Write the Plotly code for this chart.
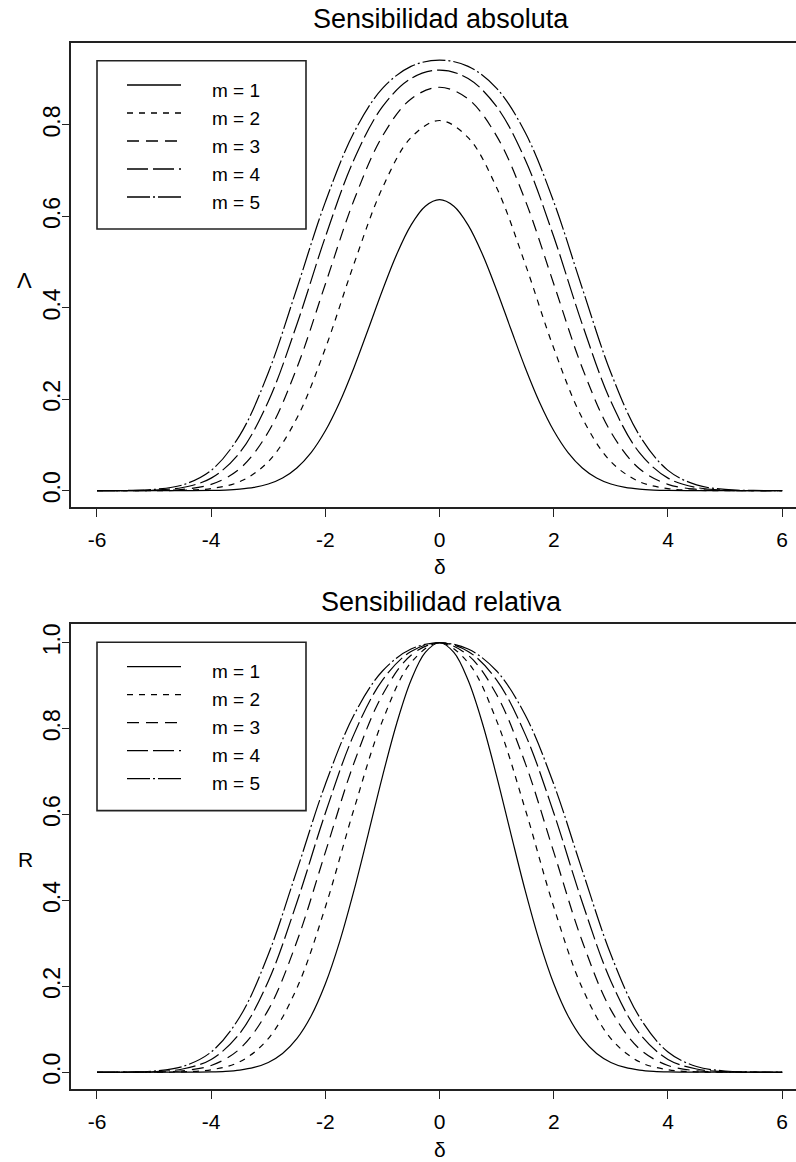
import plotly.graph_objects as go

# ---------------- data ----------------
DELTA = [-6.0, -5.5, -5.0, -4.5, -4.0, -3.5, -3.0, -2.5, -2.0, -1.5, -1.0, -0.5,
         0.0, 0.5, 1.0, 1.5, 2.0, 2.5, 3.0, 3.5, 4.0, 4.5, 5.0, 5.5, 6.0]
# the narrow m = 1 curve is read on a finer grid
DELTA_FINE = [-6.0, -5.5, -5.0, -4.5, -4.0, -3.75, -3.5, -3.25, -3.0, -2.75, -2.5, -2.25, -2.0, -1.75,
              -1.5, -1.25, -1.0, -0.75, -0.5, -0.25, 0.0, 0.25, 0.5, 0.75, 1.0, 1.25, 1.5, 1.75,
              2.0, 2.25, 2.5, 2.75, 3.0, 3.25, 3.5, 3.75, 4.0, 4.5, 5.0, 5.5, 6.0]

SERIES_NAMES = ["m = 1", "m = 2", "m = 3", "m = 4", "m = 5"]

# Sensibilidad absoluta (Lambda)
abs_m1 = [0.0000, 0.0000, 0.0000, 0.0001, 0.0006, 0.0014, 0.0033, 0.0071, 0.0146, 0.0278, 0.0498, 0.0834,
          0.1311, 0.1936, 0.2691, 0.3531, 0.4386, 0.5174, 0.5810, 0.6223, 0.6366, 0.6223, 0.5810, 0.5174,
          0.4386, 0.3531, 0.2691, 0.1936, 0.1311, 0.0834, 0.0498, 0.0278, 0.0146, 0.0071, 0.0033, 0.0014,
          0.0006, 0.0001, 0.0000, 0.0000, 0.0000]
abs_m2 = [0.0000, 0.0000, 0.0001, 0.0009, 0.0047, 0.0197, 0.0635, 0.1585, 0.3116, 0.4959, 0.6626, 0.7724,
          0.8098, 0.7724, 0.6626, 0.4959, 0.3116, 0.1585, 0.0635, 0.0197, 0.0047, 0.0009, 0.0001, 0.0000, 0.0000]
abs_m3 = [0.0000, 0.0001, 0.0005, 0.0031, 0.0139, 0.0480, 0.1283, 0.2685, 0.4522, 0.6352, 0.7757, 0.8570,
          0.8825, 0.8570, 0.7757, 0.6352, 0.4522, 0.2685, 0.1283, 0.0480, 0.0139, 0.0031, 0.0005, 0.0001, 0.0000]
abs_m4 = [0.0000, 0.0002, 0.0014, 0.0070, 0.0275, 0.0832, 0.1952, 0.3636, 0.5554, 0.7239, 0.8400, 0.9016,
          0.9201, 0.9016, 0.8400, 0.7239, 0.5554, 0.3636, 0.1952, 0.0832, 0.0275, 0.0070, 0.0014, 0.0002, 0.0000]
abs_m5 = [0.0001, 0.0005, 0.0028, 0.0126, 0.0445, 0.1211, 0.2582, 0.4424, 0.6318, 0.7834, 0.8801, 0.9282,
          0.9420, 0.9282, 0.8801, 0.7834, 0.6318, 0.4424, 0.2582, 0.1211, 0.0445, 0.0126, 0.0028, 0.0005, 0.0001]

# Sensibilidad relativa (R)
rel_m1 = [0.0000, 0.0000, 0.0000, 0.0001, 0.0009, 0.0022, 0.0051, 0.0112, 0.0229, 0.0437, 0.0782, 0.1310,
          0.2059, 0.3041, 0.4227, 0.5546, 0.6890, 0.8127, 0.9126, 0.9775, 1.0000, 0.9775, 0.9126, 0.8127,
          0.6890, 0.5546, 0.4227, 0.3041, 0.2059, 0.1310, 0.0782, 0.0437, 0.0229, 0.0112, 0.0051, 0.0022,
          0.0009, 0.0001, 0.0000, 0.0000, 0.0000]
rel_m2 = [0.0000, 0.0000, 0.0001, 0.0011, 0.0058, 0.0243, 0.0784, 0.1957, 0.3848, 0.6124, 0.8182, 0.9538,
          1.0000, 0.9538, 0.8182, 0.6124, 0.3848, 0.1957, 0.0784, 0.0243, 0.0058, 0.0011, 0.0001, 0.0000, 0.0000]
rel_m3 = [0.0000, 0.0001, 0.0006, 0.0035, 0.0158, 0.0544, 0.1453, 0.3043, 0.5124, 0.7197, 0.8789, 0.9710,
          1.0000, 0.9710, 0.8789, 0.7197, 0.5124, 0.3043, 0.1453, 0.0544, 0.0158, 0.0035, 0.0006, 0.0001, 0.0000]
rel_m4 = [0.0000, 0.0002, 0.0015, 0.0076, 0.0299, 0.0904, 0.2121, 0.3952, 0.6036, 0.7867, 0.9130, 0.9799,
          1.0000, 0.9799, 0.9130, 0.7867, 0.6036, 0.3952, 0.2121, 0.0904, 0.0299, 0.0076, 0.0015, 0.0002, 0.0000]
rel_m5 = [0.0001, 0.0005, 0.0029, 0.0134, 0.0472, 0.1286, 0.2741, 0.4696, 0.6707, 0.8316, 0.9342, 0.9853,
          1.0000, 0.9853, 0.9342, 0.8316, 0.6707, 0.4696, 0.2741, 0.1286, 0.0472, 0.0134, 0.0029, 0.0005, 0.0001]

X_TICKS = [-6, -4, -2, 0, 2, 4, 6]
X_TICK_LABELS = ["-6", "-4", "-2", "0", "2", "4", "6"]
Y_TICKS_ABS = [0.0, 0.2, 0.4, 0.6, 0.8]
Y_TICKS_REL = [0.0, 0.2, 0.4, 0.6, 0.8, 1.0]

TITLES = ["Sensibilidad absoluta", "Sensibilidad relativa"]
Y_LABELS = ["\u039b", "R"]
X_LABEL = "\u03b4"

# ---------------- styling ----------------
DASHES = ["solid", "6px,6px", "12px,7px", "21px,5px", "23px,3px,2px,3px"]
FONT = "Liberation Sans, Arial, sans-serif"
INK = "#000000"
AXIS_INK = "#222222"

abs_series = [abs_m1, abs_m2, abs_m3, abs_m4, abs_m5]
rel_series = [rel_m1, rel_m2, rel_m3, rel_m4, rel_m5]
x_series = [DELTA_FINE, DELTA, DELTA, DELTA, DELTA]

fig = go.Figure()
for series, xa, ya in [(abs_series, "x", "y"), (rel_series, "x2", "y2")]:
    for name, xs, vals, dash in zip(SERIES_NAMES, x_series, series, DASHES):
        fig.add_trace(go.Scatter(
            x=xs, y=vals, mode="lines", name=name, xaxis=xa, yaxis=ya,
            line=dict(color=INK, width=1.2, dash=dash, shape="spline", smoothing=1.0),
            showlegend=False, hoverinfo="skip"))

W, H = 796, 1162
ML = 71
PW = W - ML


def px_to_paper_x(px):
    return (px - ML) / PW


def px_to_paper_y(py):
    return 1 - py / H


x_range = [-6.455, 6.242]
common_x = dict(range=x_range, tickmode="array", tickvals=X_TICKS, ticktext=X_TICK_LABELS,
                showgrid=False, zeroline=False, showline=True, linecolor=AXIS_INK, linewidth=1.6,
                mirror=True, ticks="outside", ticklen=8, tickwidth=1.4, tickcolor=AXIS_INK,
                tickfont=dict(family=FONT, size=21, color=INK), ticklabelstandoff=5)
common_y = dict(showgrid=False, zeroline=False, showline=True, linecolor=AXIS_INK, linewidth=1.6,
                mirror=False, ticks="outside", ticklen=7, tickwidth=1.4, tickcolor=AXIS_INK,
                tickangle=-90, tickformat=".1f",
                tickfont=dict(family=FONT, size=23, color=INK), ticklabelstandoff=-7)

top_dom = [px_to_paper_y(506.7), px_to_paper_y(42.7)]
bot_dom = [px_to_paper_y(1089.0), px_to_paper_y(624.3)]

fig.update_layout(
    width=W, height=H,
    margin=dict(l=ML, r=0, t=0, b=0, pad=0),
    paper_bgcolor="white", plot_bgcolor="white",
    showlegend=False,
    xaxis=dict(domain=[0, 1], anchor="y", **common_x),
    yaxis=dict(domain=top_dom, anchor="x", range=[-0.035, 0.980], tickvals=Y_TICKS_ABS, **common_y),
    xaxis2=dict(domain=[0, 1], anchor="y2", **common_x),
    yaxis2=dict(domain=bot_dom, anchor="x2", range=[-0.039, 1.043], tickvals=Y_TICKS_REL, **common_y),
)

annotations = []
# titles
for title, ypx in zip(TITLES, [19.0, 601.5]):
    annotations.append(dict(text=title, xref="paper", yref="paper", x=px_to_paper_x(441), y=px_to_paper_y(ypx),
                            xanchor="center", yanchor="middle", showarrow=False,
                            font=dict(family=FONT, size=27, color=INK)))
# x labels
for ypx in [566.0, 1149.0]:
    annotations.append(dict(text=X_LABEL, xref="paper", yref="paper", x=px_to_paper_x(440), y=px_to_paper_y(ypx),
                            xanchor="center", yanchor="middle", showarrow=False,
                            font=dict(family=FONT, size=21, color=INK)))
# y labels (upright)
for lab, size, (xpx, ypx) in zip(Y_LABELS, [22, 21], [(24.0, 280.0), (25.5, 859.0)]):
    annotations.append(dict(text=lab, xref="paper", yref="paper", x=px_to_paper_x(xpx), y=px_to_paper_y(ypx),
                            xanchor="center", yanchor="middle", showarrow=False, textangle=0,
                            font=dict(family=FONT, size=size, color=INK)))

# legend boxes (R style), positioned in axis-domain coordinates
shapes = []
box_x0, box_x1 = 26 / PW, 235 / PW
line_x0, line_x1 = 56 / PW, 110 / PW
text_x = 139 / PW
for xa, ya, dom_h in [("x", "y", 464.0), ("x2", "y2", 464.7)]:
    def dy(off, h=dom_h):
        return 1 - off / h
    shapes.append(dict(type="rect", xref=f"{xa} domain", yref=f"{ya} domain",
                       x0=box_x0, x1=box_x1, y0=dy(186.3), y1=dy(18.0),
                       line=dict(color=AXIS_INK, width=1.6), fillcolor="rgba(0,0,0,0)"))
    for i, (name, dash) in enumerate(zip(SERIES_NAMES, DASHES)):
        ly = dy(42.3 + 28.0 * i)
        shapes.append(dict(type="line", xref=f"{xa} domain", yref=f"{ya} domain",
                           x0=line_x0, x1=line_x1, y0=ly, y1=ly,
                           line=dict(color=INK, width=1.4, dash=dash)))
        annotations.append(dict(text=name, xref=f"{xa} domain", yref=f"{ya} domain",
                                x=text_x, y=dy(47.5 + 28.0 * i), xanchor="left", yanchor="middle",
                                showarrow=False, font=dict(family=FONT, size=19, color=INK)))

fig.update_layout(annotations=annotations, shapes=shapes)

fig.write_html("out.html")
